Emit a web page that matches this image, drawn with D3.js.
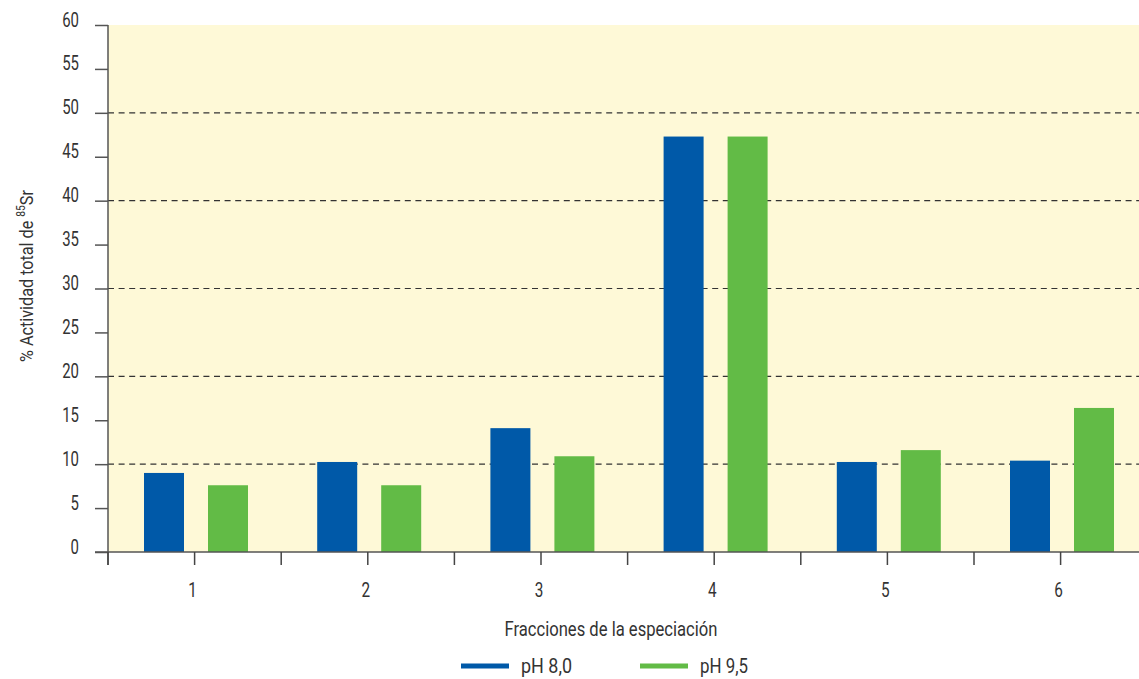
<!DOCTYPE html>
<html><head><meta charset="utf-8">
<script src="https://cdn.jsdelivr.net/npm/d3@7"></script>
<style>
body{margin:0;background:#fff;}
svg text{font-family:Roboto,"Liberation Sans",sans-serif;fill:#333;}
</style></head><body>
<svg id="chart" width="1139" height="679"></svg>
<script>
const categories = ["1","2","3","4","5","6"];
const seriesNames = ["pH 8,0","pH 9,5"];
const ph80 = [9.0, 10.25, 14.1, 47.3, 10.25, 10.4];
const ph95 = [7.6, 7.6, 10.9, 47.3, 11.6, 16.4];
const yTicks = [0,5,10,15,20,25,30,35,40,45,50,55,60];
const gridValues = [10,20,30,40,50];
const colors = ["#0059a8","#62bb46"];

(function(){
const svg = d3.select("#chart");
const mLeft = 108, mTop = 25, mBottom = 552, band = 173.2;
const x0 = d3.scaleBand().domain(categories).range([mLeft, mLeft + band*categories.length]).padding(0);
const x1 = d3.scaleBand().domain(seriesNames).range([36, 140]).paddingInner(0.375).paddingOuter(0);
const y = d3.scaleLinear().domain([0,60]).range([mBottom, mTop]);

function ctext(parent, x, yy, txt, fs, len, anchor, rot){
  const t = parent.append("text")
    .attr("transform", `translate(${x},${yy})` + (rot ? ` rotate(${rot})` : ""))
    .attr("font-size", fs + "px").attr("text-anchor", anchor || "start")
    .attr("textLength", len).attr("lengthAdjust", "spacingAndGlyphs");
  if (txt !== null) t.text(txt);
  return t;
}

svg.append("rect").attr("x", mLeft).attr("y", mTop).attr("width", 1139-mLeft).attr("height", mBottom-mTop).attr("fill","#fef9d7");

svg.selectAll(".grid").data(gridValues).enter().append("line")
  .attr("x1", mLeft).attr("x2", 1139).attr("y1", d=>y(d)).attr("y2", d=>y(d))
  .attr("stroke","#333").attr("stroke-width",1.2).attr("stroke-dasharray","6,4.6");

const data = categories.map((c,i)=>({cat:c, vals:[ph80[i], ph95[i]]}));
const g = svg.selectAll(".cat").data(data).enter().append("g")
  .attr("transform", d=>`translate(${x0(d.cat)},0)`);
g.selectAll("rect").data(d=>d.vals.map((v,j)=>({s:seriesNames[j], v, j}))).enter().append("rect")
  .attr("x", d=>x1(d.s)).attr("width", x1.bandwidth())
  .attr("y", d=>y(d.v)).attr("height", d=>mBottom - y(d.v))
  .attr("fill", d=>colors[d.j]);

const yAxis = d3.axisLeft(y).tickValues(yTicks).tickSize(13).tickFormat("");
const ya = svg.append("g").attr("transform",`translate(${mLeft},0)`).call(yAxis);
ya.select(".domain").remove();
ya.selectAll(".tick line").attr("stroke","#555").attr("stroke-width",1.5);
yTicks.forEach(v=>{ const s = String(v); ctext(svg, 79, y(v)+1.5, s, 20.5, 8.4*s.length, "end"); });
svg.append("line").attr("x1",mLeft).attr("x2",mLeft).attr("y1",mTop).attr("y2",mBottom+13).attr("stroke","#555").attr("stroke-width",1.5);

svg.append("line").attr("x1",95).attr("x2",1139).attr("y1",mBottom).attr("y2",mBottom).attr("stroke","#555").attr("stroke-width",1.5);
const xTickPos = [];
categories.forEach(c=>{ xTickPos.push(x0(c)); xTickPos.push(x0(c)+x0.bandwidth()/2); });
svg.selectAll(".xt").data(xTickPos).enter().append("line")
  .attr("x1",d=>d).attr("x2",d=>d).attr("y1",mBottom).attr("y2",mBottom+13)
  .attr("stroke","#444").attr("stroke-width",1.5);
categories.forEach(c=>{ ctext(svg, x0(c)+x0.bandwidth()/2 - 2, 597, c, 20.5, 8.6, "middle"); });

ctext(svg, 611, 636, "Fracciones de la especiación", 21, 213, "middle");
const yt = ctext(svg, 33, 276, null, 19, 172, "middle", -90);
yt.append("tspan").text("% Actividad total de ");
yt.append("tspan").attr("font-size","12px").attr("dy","-8").text("85");
yt.append("tspan").attr("dy","8").text("Sr");

const legX = [461, 640];
const legLen = [51, 48];
seriesNames.forEach((s,i)=>{
  svg.append("line").attr("x1",legX[i]).attr("x2",legX[i]+48).attr("y1",666).attr("y2",666).attr("stroke",colors[i]).attr("stroke-width",5);
  ctext(svg, legX[i]+60, 673, s, 19.5, legLen[i], "start");
});
})();
</script></body></html>
